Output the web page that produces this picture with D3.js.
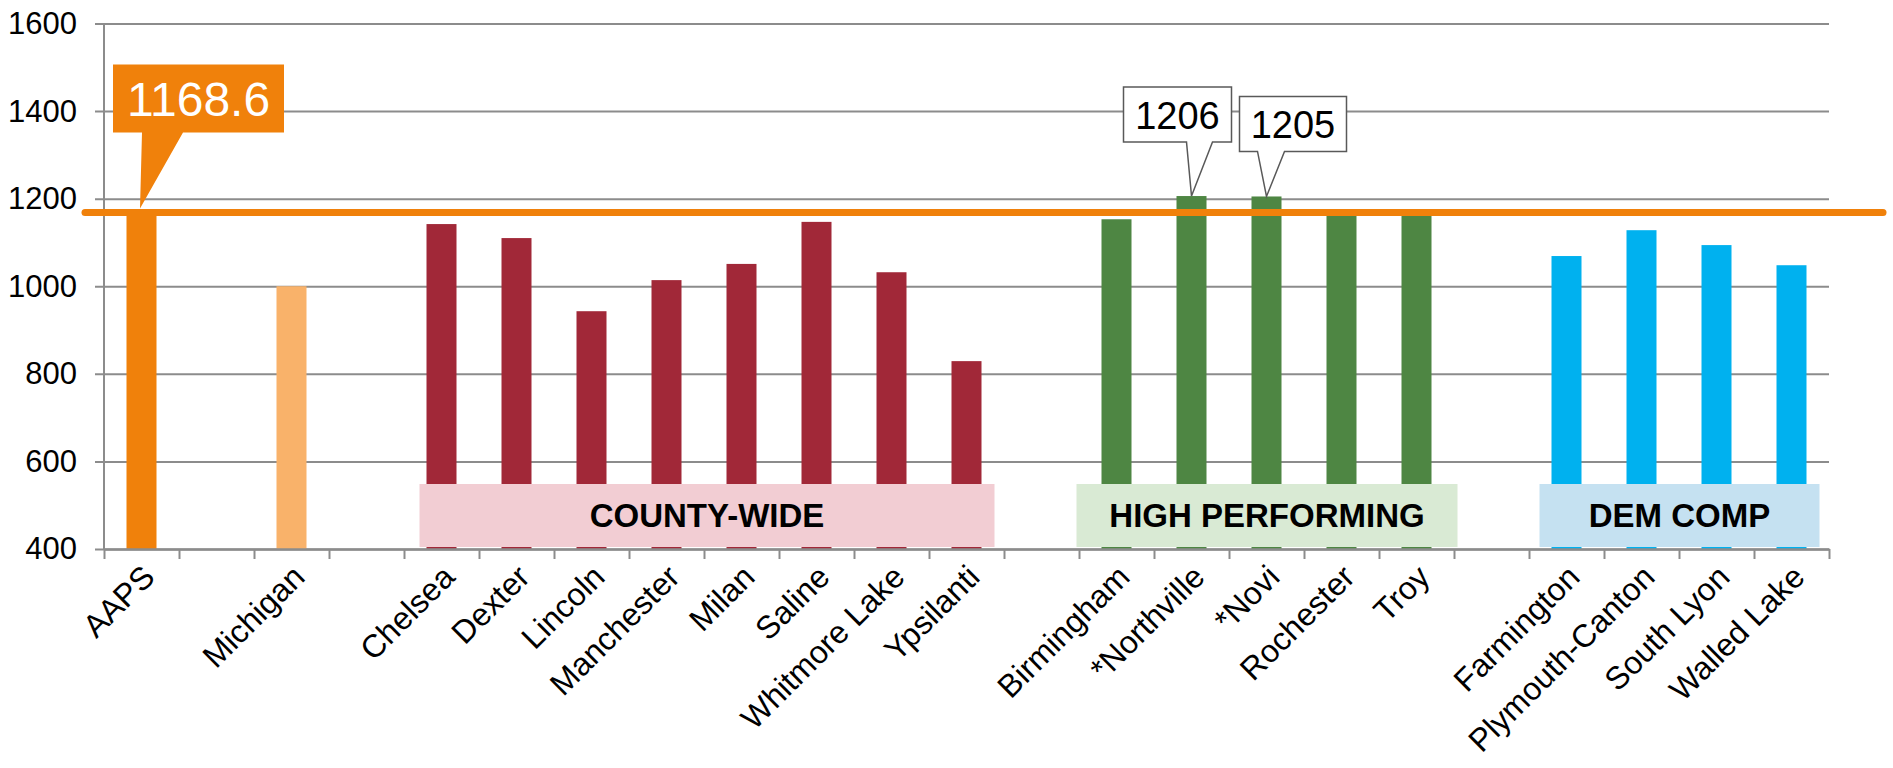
<!DOCTYPE html>
<html>
<head>
<meta charset="utf-8">
<script src="https://cdn.jsdelivr.net/npm/d3@7"></script>
<style>
  body { margin: 0; background: #fff; }
  svg { display: block; font-family: "Liberation Sans", Arial, sans-serif; }
</style>
</head>
<body>
<svg></svg>
<script>
const width = 1893;
const height = 768;

// data
const categories = ["AAPS", "", "Michigan", "", "Chelsea", "Dexter", "Lincoln", "Manchester", "Milan", "Saline",
    "Whitmore Lake", "Ypsilanti", "", "Birmingham", "*Northville", "*Novi", "Rochester", "Troy", "",
    "Farmington", "Plymouth-Canton", "South Lyon", "Walled Lake"];
const scores = [1168.6, null, 1000, null, 1142, 1110, 943, 1014, 1051, 1147,
    1032, 829, null, 1153, 1206, 1205, 1166, 1167, null,
    1069, 1128, 1094, 1048];
const groups = ["aaps", "", "state", "", "county", "county", "county", "county", "county", "county",
    "county", "county", "", "high", "high", "high", "high", "high", "",
    "dem", "dem", "dem", "dem"];
const groupNames = ["county", "high", "dem"];
const groupTitles = ["COUNTY-WIDE", "HIGH PERFORMING", "DEM COMP"];
const yTicks = [400, 600, 800, 1000, 1200, 1400, 1600];
const aapsScore = 1168.6;
const calloutCategories = ["*Northville", "*Novi"];

const colors = { aaps: "#f0810b", state: "#f9b26a", county: "#a12838", high: "#4e8643", dem: "#00b1ef" };
const boxColors = { county: "#f2cdd3", high: "#d9ead4", dem: "#c5e1f1" };
const boxPad = { county: [7, 13], high: [25, 26], dem: [12, 13] };

const margin = { left: 104, top: 23.5, right: 64, bottom: 219 };
const w = width - margin.left - margin.right;
const h = height - margin.top - margin.bottom;

let svg = d3.select("svg").attr("width", width).attr("height", height);
let g = svg.append("g").attr("transform", `translate(${margin.left},${margin.top})`);

let x = d3.scaleBand().domain(d3.range(categories.length)).range([0, w]).paddingInner(0.6).paddingOuter(0.3);
let xEdge = d3.scaleLinear().domain([0, categories.length]).range([0, w]);
let y = d3.scaleLinear().domain([400, 1600]).range([h, 0]);

// gridlines + y labels
let yAxis = g.append("g")
    .call(d3.axisLeft(y).tickValues(yTicks).tickFormat(d3.format("d")).tickSize(-w).tickPadding(27).tickSizeOuter(0));
yAxis.select(".domain").remove();
yAxis.selectAll("line").attr("x1", -9).attr("stroke", "#8c8c8c").attr("stroke-width", 2);
yAxis.selectAll("text").attr("font-size", 31).attr("fill", "#000");

g.append("line").attr("x1", 0).attr("x2", 0).attr("y1", 0).attr("y2", h)
    .attr("stroke", "#8c8c8c").attr("stroke-width", 2);

// bars
g.selectAll(".bar")
    .data(scores.map((v, i) => ({ v, i })).filter((d) => d.v != null))
    .join("rect")
    .attr("class", "bar")
    .attr("x", (d) => x(d.i))
    .attr("width", x.bandwidth())
    .attr("y", (d) => y(d.v))
    .attr("height", (d) => h - y(d.v))
    .attr("fill", (d) => colors[groups[d.i]]);

// x axis with ticks at slot edges
let xAxis = g.append("g").attr("transform", `translate(0,${h})`)
    .call(d3.axisBottom(xEdge).tickValues(d3.range(categories.length + 1)).tickFormat("").tickSize(10).tickSizeOuter(0));
xAxis.select(".domain").attr("stroke", "#8c8c8c").attr("stroke-width", 2.5);
xAxis.selectAll("line").attr("stroke", "#8c8c8c").attr("stroke-width", 2);

// group boxes
groupNames.forEach((name, k) => {
    const idx = groups.map((gr, i) => (gr === name ? i : -1)).filter((i) => i >= 0);
    const x0 = x(idx[0]) - boxPad[name][0];
    const x1 = x(idx[idx.length - 1]) + x.bandwidth() + boxPad[name][1];
    g.append("rect")
        .attr("x", x0).attr("width", x1 - x0)
        .attr("y", h - 65).attr("height", 63)
        .attr("fill", boxColors[name]);
    g.append("text")
        .attr("x", (x0 + x1) / 2).attr("y", h - 33.5)
        .attr("text-anchor", "middle").attr("dominant-baseline", "central")
        .attr("font-size", 33).attr("font-weight", "bold").attr("fill", "#000")
        .text(groupTitles[k]);
});

// category labels
g.selectAll(".cat")
    .data(categories.map((c, i) => ({ c, i })).filter((d) => d.c !== ""))
    .join("text")
    .attr("class", "cat")
    .attr("transform", (d) => `translate(${x(d.i) + x.bandwidth() / 2 + 15},${h + 30}) rotate(-45)`)
    .attr("text-anchor", "end")
    .attr("font-size", 32)
    .attr("fill", "#000")
    .text((d) => d.c);

// AAPS reference line
g.append("line")
    .attr("x1", -19).attr("x2", w + 54)
    .attr("y1", y(aapsScore)).attr("y2", y(aapsScore))
    .attr("stroke", "#f0810b").attr("stroke-width", 7).attr("stroke-linecap", "round");

function calloutPath(tx, ty, o) {
    return `M${tx + o.l},${ty + o.t}H${tx + o.r}V${ty + o.b}H${tx + o.br}L${tx},${ty}L${tx + o.bl},${ty + o.b}H${tx + o.l}Z`;
}

// orange AAPS callout
{
    const tx = x(0) + x.bandwidth() / 2 - 1.5;
    const ty = y(aapsScore) - 4;
    const o = { l: -27, r: 144, t: -144, b: -76, bl: 2, br: 43 };
    g.append("path").attr("d", calloutPath(tx, ty, o)).attr("fill", "#f0810b");
    g.append("text")
        .attr("x", tx + (o.l + o.r) / 2).attr("y", ty - 92)
        .attr("text-anchor", "middle").attr("font-size", 48).attr("fill", "#fff")
        .text(aapsScore.toFixed(1));
}

// white callouts
const calloutShapes = [
    { l: -68, r: 40, t: -109, b: -54, bl: -5, br: 21, base: -67 },
    { l: -27, r: 80, t: -100, b: -45, bl: -9, br: 18, base: -58 }
];
calloutCategories.forEach((c, k) => {
    const i = categories.indexOf(c);
    const tx = x(i) + x.bandwidth() / 2;
    const ty = y(scores[i]);
    const o = calloutShapes[k];
    g.append("path").attr("d", calloutPath(tx, ty, o))
        .attr("fill", "#fff").attr("stroke", "#595959").attr("stroke-width", 1.5);
    g.append("text")
        .attr("x", tx + (o.l + o.r) / 2).attr("y", ty + o.base)
        .attr("text-anchor", "middle").attr("font-size", 38).attr("fill", "#000")
        .text(scores[i]);
});
</script>
</body>
</html>
